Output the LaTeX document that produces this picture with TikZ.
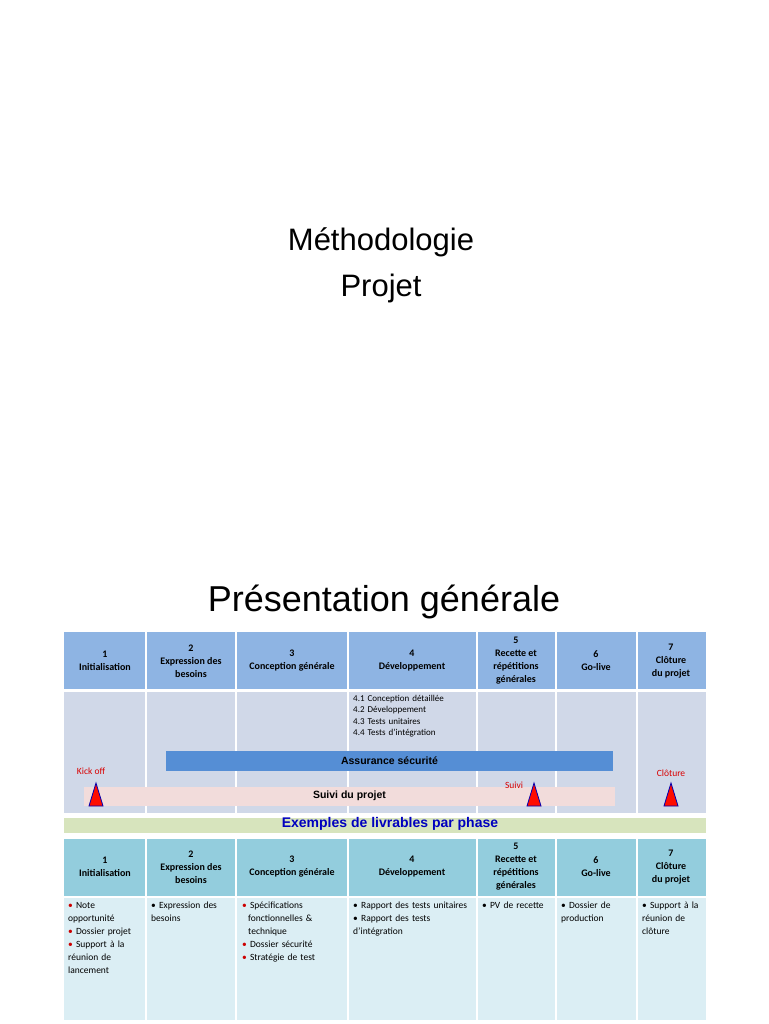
\documentclass[tikz,border=0pt]{standalone}
\usepackage{fontspec}
\setmainfont{Liberation Sans}
\newfontfamily\calfont{Carlito}
\begin{document}
\begin{tikzpicture}[x=1pt,y=-1pt,
  hd/.style={align=center,font=\calfont\bfseries\fontsize{10}{13}\selectfont},
  bd/.style={align=left,anchor=north west,font=\calfont\fontsize{9.5}{13}\selectfont,text width=#1,inner sep=2pt},
  tri/.style={fill=red!90!orange,draw=blue!70!black,line width=0.8pt},
  mk/.style={text=red!85!black,font=\calfont\fontsize{9.5}{10}\selectfont}]
\definecolor{hA}{HTML}{8EB4E3}\definecolor{bA}{HTML}{D0D8E8}
\definecolor{asb}{HTML}{558ED5}\definecolor{spk}{HTML}{F2DCDB}
\definecolor{grn}{HTML}{D7E4BD}\definecolor{hB}{HTML}{93CDDD}\definecolor{bB}{HTML}{DBEEF4}
\useasboundingbox (0,0) rectangle (768,1024);
\fill[white] (0,0) rectangle (768,1024);
\node (t1) at (381,265) [align=center,font=\fontsize{31}{46}\selectfont] {Méthodologie\\Projet};
\node (t2) at (384,602) [font=\fontsize{36}{40}\selectfont] {Présentation générale};
\fill[hA] (64,632) rectangle (706,689);
\fill[bA] (64,692) rectangle (706,813);
\fill[grn] (64,818) rectangle (706,833);
\fill[hB] (64,839) rectangle (706,896);
\fill[bB] (64,898) rectangle (706,1020);
\foreach \x in {146,236,348,477,556,637}{
  \draw[white,line width=1.5pt] (\x,632) -- (\x,813);
  \draw[white,line width=1.5pt] (\x,839) -- (\x,1020);}
\foreach \n/\x/\t in {a/105/{1\\Initialisation},b/191/{2\\Expression des\\besoins},c/292/{3\\Conception générale},d/412/{4\\Développement},e/516/{5\\Recette et\\répétitions\\générales},f/596/{6\\Go-live},g/671/{7\\Clôture\\du projet}}{
  \node[hd] (h\n) at (\x,661) {\t};
  \node[hd] (k\n) at (\x,867) {\t};}
\node[bd=4cm,font=\calfont\fontsize{9}{11.5}\selectfont] (sub) at (351,693) {4.1 Conception détaillée\\4.2 Développement\\4.3 Tests unitaires\\4.4 Tests d’intégration};
\node[fill=asb,minimum width=447,minimum height=20,inner sep=0,font=\bfseries\fontsize{10.5}{11}\selectfont] (as) at (389.5,761) {Assurance sécurité};
\node[fill=spk,minimum width=531,minimum height=19,inner sep=0,font=\bfseries\fontsize{10.5}{11}\selectfont] (sp) at (349.5,796) {Suivi du projet};
\foreach \x in {96,534,671}
  \draw[tri] (\x-7,806) -- (\x,783) -- (\x+7,806) -- cycle;
\node[mk] (ko) at (91,771) {Kick off};
\node[mk] (sv) at (514,785) {Suivi};
\node[mk] (cl) at (671,773) {Clôture};
\node[font=\bfseries\fontsize{14}{15}\selectfont,text=blue!75!black] (ex) at (390,824) {Exemples de livrables par phase};
\def\rb{{\color{red!80!black}\textbullet}~}
\node[bd=78] (l1) at (66,900) {\rb Note\\opportunité\\\rb Dossier projet\\\rb Support à la\\réunion de\\lancement};
\node[bd=88] (l2) at (149,900) {\textbullet~Expression des\\besoins};
\node[bd=110] (l3) at (240,900) {\rb Spécifications\\\hspace*{6pt}fonctionnelles \&\\\hspace*{6pt}technique\\\rb Dossier sécurité\\\rb Stratégie de test};
\node[bd=128] (l4) at (351,900) {\textbullet~Rapport des tests unitaires\\\textbullet~Rapport des tests\\d’intégration};
\node[bd=78] (l5) at (480,900) {\textbullet~PV de recette};
\node[bd=78] (l6) at (559,900) {\textbullet~Dossier de\\production};
\node[bd=68] (l7) at (640,900) {\textbullet~Support à la\\réunion de\\clôture};
\end{tikzpicture}
\end{document}
